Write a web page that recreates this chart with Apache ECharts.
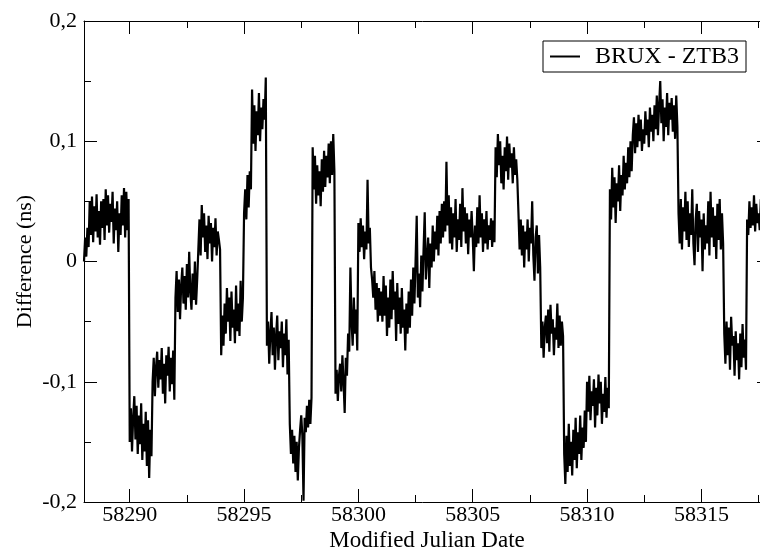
<!DOCTYPE html>
<html>
<head>
<meta charset="utf-8">
<script src="https://cdn.jsdelivr.net/npm/echarts@6/dist/echarts.min.js"></script>
<style>
html,body{margin:0;padding:0;background:#fff;}
#chart{width:760px;height:554px;}
</style>
</head>
<body>
<div id="chart"></div>
<script>
// Data: one array per day (MJD), samples spread evenly over each day
const seriesName = 'BRUX - ZTB3';
const firstDay = 58288;
const d58288 = [0.000, 0.020, 0.004, 0.028, 0.012, 0.050, 0.022, 0.054, 0.016, 0.046, 0.025, 0.056, 0.020, 0.042, 0.014, 0.050, 0.028, 0.052, 0.018, 0.060];
const d58289 = [0.030, 0.055, 0.024, 0.048, 0.033, 0.058, 0.015, 0.044, 0.026, 0.050, 0.008, 0.040, 0.022, 0.055, 0.030, 0.061, 0.020, 0.058, 0.026, 0.052];
const d58290 = [-0.150, -0.122, -0.158, -0.130, -0.112, -0.148, -0.120, -0.160, -0.128, -0.152, -0.118, -0.165, -0.135, -0.158, -0.125, -0.170, -0.132, -0.180, -0.140, -0.162];
const d58291 = [-0.100, -0.080, -0.112, -0.088, -0.075, -0.105, -0.082, -0.098, -0.072, -0.110, -0.085, -0.118, -0.078, -0.095, -0.071, -0.108, -0.080, -0.102, -0.074, -0.115];
const d58292 = [-0.030, -0.008, -0.042, -0.015, -0.048, -0.020, -0.005, -0.035, -0.012, -0.040, -0.002, -0.030, 0.008, -0.025, -0.040, -0.010, -0.032, 0.000, -0.036, -0.015];
const d58293 = [0.010, 0.035, 0.005, 0.047, 0.020, 0.040, 0.008, 0.030, 0.002, 0.038, 0.015, 0.032, 0.000, 0.028, 0.012, 0.036, 0.005, 0.025, 0.018, 0.010];
const d58294 = [-0.078, -0.045, -0.070, -0.035, -0.060, -0.022, -0.050, -0.030, -0.066, -0.025, -0.055, -0.040, -0.068, -0.020, -0.058, -0.035, -0.062, -0.016, -0.050, -0.030];
const d58295 = [0.040, 0.060, 0.035, 0.072, 0.045, 0.075, 0.060, 0.143, 0.098, 0.130, 0.092, 0.125, 0.105, 0.140, 0.100, 0.128, 0.110, 0.135, 0.118, 0.153];
const d58296 = [-0.070, -0.050, -0.085, -0.060, -0.042, -0.078, -0.055, -0.090, -0.062, -0.045, -0.082, -0.058, -0.072, -0.050, -0.088, -0.060, -0.078, -0.048, -0.094, -0.065];
const d58297 = [-0.135, -0.160, -0.140, -0.168, -0.145, -0.175, -0.150, -0.182, -0.155, -0.140, -0.128, -0.145, -0.199, -0.130, -0.142, -0.120, -0.138, -0.115, -0.135, -0.113];
const d58298 = [0.095, 0.060, 0.088, 0.048, 0.080, 0.055, 0.075, 0.046, 0.085, 0.058, 0.092, 0.062, 0.088, 0.070, 0.098, 0.065, 0.100, 0.072, 0.106, 0.075];
const d58299 = [-0.110, -0.090, -0.116, -0.095, -0.085, -0.108, -0.078, -0.100, -0.126, -0.080, -0.095, -0.060, -0.075, -0.005, -0.050, -0.070, -0.030, -0.060, -0.040, -0.074];
const d58300 = [0.032, 0.008, 0.036, 0.012, 0.030, 0.002, 0.025, 0.010, 0.068, 0.015, 0.028, -0.005, -0.015, -0.030, -0.008, -0.040, -0.018, -0.050, -0.022, -0.045];
const d58301 = [-0.025, -0.050, -0.012, -0.045, -0.020, -0.062, -0.030, -0.055, -0.015, -0.048, -0.008, -0.040, -0.025, -0.066, -0.018, -0.052, -0.030, -0.060, -0.022, -0.055];
const d58302 = [-0.040, -0.074, -0.035, -0.060, -0.025, -0.055, -0.015, -0.045, -0.005, -0.035, 0.000, 0.038, -0.030, -0.010, -0.038, 0.005, -0.025, 0.010, 0.041, -0.015];
const d58303 = [-0.015, 0.020, -0.022, 0.015, -0.005, 0.030, 0.000, 0.025, 0.010, 0.038, 0.005, 0.042, 0.015, 0.048, 0.020, 0.050, 0.025, 0.083, 0.030, 0.055];
const d58304 = [0.015, 0.045, 0.010, 0.040, 0.020, 0.052, 0.008, 0.035, 0.018, 0.048, 0.012, 0.061, 0.025, 0.045, 0.015, 0.040, 0.006, 0.035, 0.020, 0.042];
const d58305 = [0.020, -0.008, 0.030, 0.012, 0.045, 0.015, 0.055, 0.020, 0.040, 0.008, 0.035, 0.015, 0.042, 0.010, 0.030, 0.018, 0.036, 0.012, 0.034, 0.016];
const d58306 = [0.095, 0.070, 0.106, 0.080, 0.100, 0.065, 0.088, 0.060, 0.095, 0.075, 0.104, 0.068, 0.098, 0.078, 0.090, 0.065, 0.095, 0.072, 0.085, 0.068];
const d58307 = [0.040, 0.010, 0.035, 0.005, 0.030, -0.005, 0.025, 0.010, 0.035, 0.000, 0.028, 0.015, 0.050, 0.005, -0.016, 0.020, 0.030, -0.010, 0.022, -0.005];
const d58308 = [-0.072, -0.050, -0.080, -0.055, -0.045, -0.068, -0.040, -0.075, -0.036, -0.060, -0.048, -0.078, -0.055, -0.065, -0.035, -0.072, -0.045, -0.070, -0.050, -0.062];
const d58309 = [-0.160, -0.185, -0.145, -0.175, -0.135, -0.170, -0.150, -0.178, -0.140, -0.165, -0.130, -0.172, -0.142, -0.160, -0.128, -0.165, -0.138, -0.155, -0.124, -0.150];
const d58310 = [-0.100, -0.125, -0.095, -0.132, -0.108, -0.120, -0.098, -0.138, -0.105, -0.128, -0.094, -0.118, -0.100, -0.135, -0.110, -0.125, -0.096, -0.130, -0.105, -0.122];
const d58311 = [0.060, 0.035, 0.078, 0.045, 0.070, 0.032, 0.065, 0.050, 0.080, 0.042, 0.072, 0.055, 0.088, 0.060, 0.082, 0.065, 0.095, 0.070, 0.100, 0.075];
const d58312 = [0.105, 0.120, 0.090, 0.115, 0.095, 0.122, 0.100, 0.118, 0.092, 0.110, 0.098, 0.125, 0.105, 0.118, 0.095, 0.128, 0.108, 0.122, 0.100, 0.130];
const d58313 = [0.110, 0.138, 0.105, 0.130, 0.150, 0.115, 0.135, 0.100, 0.128, 0.112, 0.140, 0.105, 0.132, 0.118, 0.136, 0.108, 0.130, 0.102, 0.138, 0.112];
const d58314 = [0.040, 0.015, 0.052, 0.010, 0.045, 0.025, 0.058, 0.018, 0.050, 0.012, 0.040, 0.022, 0.060, 0.015, -0.003, 0.035, 0.048, 0.008, 0.042, 0.020];
const d58315 = [0.035, -0.008, 0.040, 0.010, 0.030, 0.015, 0.050, 0.005, 0.058, 0.020, 0.045, 0.012, 0.038, 0.002, 0.048, 0.018, 0.052, 0.010, 0.040, 0.015];
const d58316 = [-0.060, -0.085, -0.050, -0.078, -0.055, -0.090, -0.046, -0.070, -0.062, -0.095, -0.058, -0.082, -0.068, -0.098, -0.060, -0.088, -0.052, -0.080, -0.065, -0.090];
const d58317 = [0.035, 0.022, 0.050, 0.028, 0.045, 0.030, 0.055, 0.025, 0.048, 0.032, 0.040, 0.026, 0.052, 0.030, 0.046, 0.024, 0.050, 0.034, 0.042, 0.028];

const dayArrays = [d58288, d58289, d58290, d58291, d58292, d58293, d58294, d58295, d58296, d58297,
  d58298, d58299, d58300, d58301, d58302, d58303, d58304, d58305, d58306, d58307,
  d58308, d58309, d58310, d58311, d58312, d58313, d58314, d58315, d58316, d58317];

const xMajorTicks = [58290, 58295, 58300, 58305, 58310, 58315];
const xMinorTicks = [58292.5, 58297.5, 58302.5, 58307.5, 58312.5, 58317.5];
const xMin = 58288, xMax = 58318;
const yMin = -0.2, yMax = 0.2, yStep = 0.1;

const points = [];
dayArrays.forEach((arr, d) => {
  arr.forEach((v, i) => {
    points.push([firstDay + d + i / arr.length, v]);
  });
});

const FONT = 'Liberation Serif';
const black = '#000';

function xAxisDef(opts) {
  return Object.assign({
    type: 'value', min: xMin, max: xMax, gridIndex: 0,
    axisLine: { show: false, onZero: false },
    splitLine: { show: false },
    axisLabel: { show: false },
    axisTick: { show: false }
  }, opts);
}

const chart = echarts.init(document.getElementById('chart'), null, { renderer: 'canvas' });
chart.setOption({
  animation: false,
  backgroundColor: '#fff',
  textStyle: { fontFamily: FONT, color: black },
  grid: { left: 84, top: 21, width: 686, height: 481, show: false, containLabel: false, outerBoundsMode: 'none' },
  legend: {
    data: [{ name: seriesName, icon: 'rect' }],
    left: 543, top: 41,
    orient: 'horizontal',
    itemWidth: 30, itemHeight: 2,
    borderColor: black, borderWidth: 1, borderRadius: 0,
    padding: [3, 7, 3, 7],
    itemStyle: { color: black },
    textStyle: { fontFamily: FONT, fontSize: 24, color: black, padding: [0, 0, 0, 10], lineHeight: 25 }
  },
  xAxis: [
    xAxisDef({
      position: 'bottom',
      name: 'Modified Julian Date',
      nameLocation: 'middle',
      nameGap: 27,
      nameMoveOverlap: false,
      nameTextStyle: { fontFamily: FONT, fontSize: 23, color: black },
      axisLine: { show: true, onZero: false, lineStyle: { color: black, width: 1 } },
      axisTick: { show: true, inside: true, length: 13, customValues: xMajorTicks, lineStyle: { color: black, width: 1 } },
      axisLabel: { show: true, customValues: xMajorTicks, margin: 2, fontFamily: FONT, fontSize: 22, color: black,
        formatter: v => String(v) }
    }),
    xAxisDef({
      position: 'top',
      axisLine: { show: true, onZero: false, lineStyle: { color: black, width: 1 } },
      axisTick: { show: true, inside: true, length: 13, customValues: xMajorTicks, lineStyle: { color: black, width: 1 } }
    }),
    xAxisDef({
      position: 'bottom',
      axisTick: { show: true, inside: true, length: 7, customValues: xMinorTicks, lineStyle: { color: black, width: 1 } }
    }),
    xAxisDef({
      position: 'top',
      axisTick: { show: true, inside: true, length: 7, customValues: xMinorTicks, lineStyle: { color: black, width: 1 } }
    })
  ],
  yAxis: [
    {
      type: 'value', min: yMin, max: yMax, interval: yStep, position: 'left',
      name: 'Difference (ns)', nameLocation: 'middle', nameGap: 48,
      nameMoveOverlap: false,
      nameTextStyle: { fontFamily: FONT, fontSize: 22, color: black },
      axisLine: { show: true, onZero: false, lineStyle: { color: black, width: 1 } },
      axisTick: { show: true, inside: true, length: 13, lineStyle: { color: black, width: 1 } },
      minorTick: { show: true, splitNumber: 2, length: 7, lineStyle: { color: black, width: 1 } },
      splitLine: { show: false },
      axisLabel: { margin: 7, fontFamily: FONT, fontSize: 22, color: black,
        formatter: v => String(Math.round(v * 10) / 10).replace('.', ',') }
    },
    {
      type: 'value', min: yMin, max: yMax, interval: yStep, position: 'right',
      axisLine: { show: true, onZero: false, lineStyle: { color: black, width: 1 } },
      axisTick: { show: true, inside: true, length: 13, lineStyle: { color: black, width: 1 } },
      minorTick: { show: true, splitNumber: 2, length: 7, lineStyle: { color: black, width: 1 } },
      splitLine: { show: false },
      axisLabel: { show: false }
    }
  ],
  series: [{
    name: seriesName,
    type: 'line',
    xAxisIndex: 0, yAxisIndex: 0,
    data: points,
    showSymbol: false,
    symbol: 'none',
    sampling: null,
    clip: true,
    lineStyle: { color: black, width: 2.2 },
    itemStyle: { color: black }
  }]
});
</script>
</body>
</html>
